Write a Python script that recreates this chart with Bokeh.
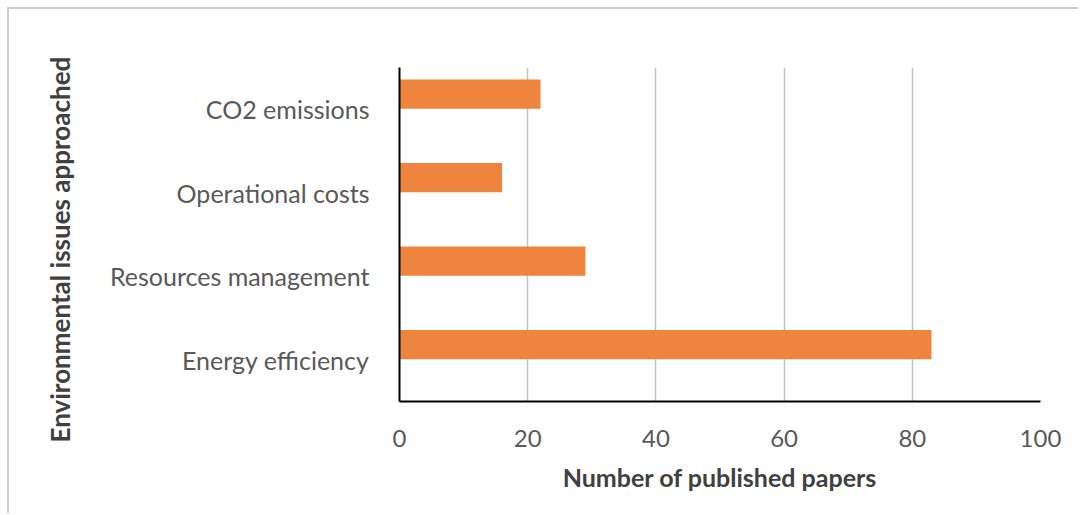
from bokeh.plotting import figure
from bokeh.models import FactorRange, Range1d, FixedTicker, Title
from bokeh.transform import dodge
from bokeh.embed import file_html
from bokeh.resources import INLINE

# Papers per environmental issue (bottom to top)
issues = ["Energy efficiency", "Resources management", "Operational costs", "CO2 emissions"]
papers = [83, 29, 16, 22]
x_ticks = [0, 20, 40, 60, 80, 100]

FONT = "Lato"
EDGE = 9  # offset of the canvas inside the thin frame round the chart

p = figure(
    width=1080 - EDGE, height=515 - EDGE,
    y_range=FactorRange(*issues),
    x_range=Range1d(0, 100),
    output_backend="svg", toolbar_location=None,
    min_border_left=399 - EDGE, min_border_right=40,
    min_border_top=67 - EDGE, min_border_bottom=114,
    background_fill_color="white", border_fill_color="white",
)
p.outline_line_color = None
p.margin = (EDGE - 2, 0, 0, EDGE - 2)
p.styles = {
    "border-top": "2px solid #cccccc",
    "border-left": "2px solid #cccccc",
}

# bars sit in the upper part of each category band
source = dict(issue=issues, papers=papers)
p.hbar(y=dodge("issue", 0.18, range=p.y_range), right="papers", left=0,
       height=0.35, color="#EE843E", line_color=None, source=source)

xa = p.xaxis[0]
xa.ticker = FixedTicker(ticks=x_ticks)
xa.axis_line_color = "black"
xa.axis_line_width = 2
xa.major_tick_line_color = None
xa.minor_tick_line_color = None
xa.major_label_text_font = FONT
xa.major_label_text_font_size = "24px"
xa.major_label_text_color = "#595959"
xa.major_label_standoff = 22
xa.axis_label = "Number of published papers"
xa.axis_label_text_font = FONT
xa.axis_label_text_font_style = "bold"
xa.axis_label_text_font_size = "25px"
xa.axis_label_text_color = "#404040"
xa.axis_label_standoff = 12

ya = p.yaxis[0]
ya.axis_line_color = "black"
ya.axis_line_width = 2
ya.major_tick_line_color = None
ya.minor_tick_line_color = None
ya.major_label_text_font = FONT
ya.major_label_text_font_size = "25px"
ya.major_label_text_color = "#595959"
ya.major_label_standoff = 24

# y-axis title, set a little below the middle of the plot area
p.add_layout(Title(
    text="Environmental issues approached", align="left", offset=-41,
    vertical_align="top",
    text_font=FONT, text_font_style="bold", text_font_size="26px",
    text_color="#404040", standoff=58,
), "left")

p.xgrid.grid_line_color = "#c2c2c2"
p.xgrid.grid_line_width = 1.5
p.ygrid.grid_line_color = None

open("out.html", "w").write(file_html(p, INLINE))
